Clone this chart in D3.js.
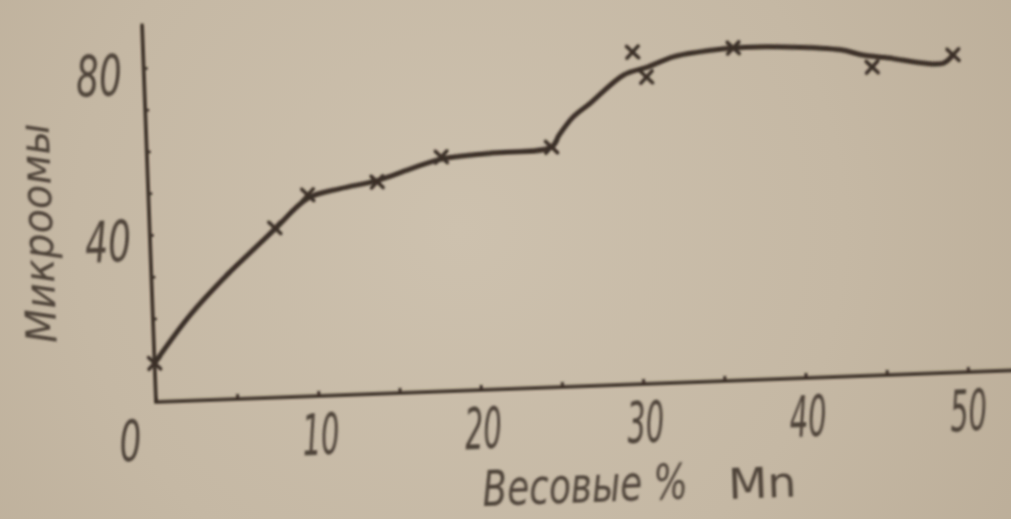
<!DOCTYPE html>
<html>
<head>
<meta charset="utf-8">
<script src="https://cdn.jsdelivr.net/npm/d3@7"></script>
<style>
  html, body { margin: 0; padding: 0; background: #c4b8a4; overflow: hidden; }
  svg { display: block; }
</style>
</head>
<body>
<svg id="chart" width="1011" height="519"></svg>
<script>
// Сопротивление (микроомы) в зависимости от содержания марганца, вес. %

// Плавная кривая, проведённая через опытные точки
const curveMn    = [0, 2.3, 4.8, 6.1, 7.7, 9.8, 11.8, 14.1, 16.1, 18.1, 21.3, 24.9, 25.4, 26.3, 27.4, 29.5, 31.0, 32.6, 34.1, 36.3, 39.8, 42.9, 44.3, 45.9, 47.9, 49.2, 49.8];
const curveMicro = [9.3, 20.5, 30.3, 34.8, 40.3, 47.4, 49.4, 51.0, 53.4, 55.6, 56.6, 57.5, 60.3, 64.5, 67.7, 74.1, 75.8, 78.0, 78.9, 79.6, 79.3, 78.2, 76.7, 75.8, 74.3, 74.1, 76.0];

// Опытные точки (крестики)
const pointMn    = [0, 7.7, 9.8, 14.1, 18.1, 24.9, 30.1, 30.9, 36.3, 44.8, 49.8];
const pointMicro = [9.3, 40.6, 48.2, 50.7, 56.1, 57.5, 79.5, 73.4, 79.6, 73.8, 76.0];

// Деления и подписи осей
const xTickValues = [0, 5, 10, 15, 20, 25, 30, 35, 40, 45, 50];
const xTickLabels = ["0", "10", "20", "30", "40", "50"];
const yTickValues = [10, 20, 30, 40, 50, 60, 70, 80];
const yTickLabels = ["40", "80"];
const xTitle = "Весовые %";
const xTitleUnit = "Mn";
const yTitle = "Микроомы";

const W = 1011, H = 519;
const svg = d3.select("#chart");
const defs = svg.append("defs");

// Фон — бумага с неравномерной освещённостью
const bg = defs.append("radialGradient")
  .attr("id", "paper").attr("gradientUnits", "userSpaceOnUse")
  .attr("cx", 460).attr("cy", 230).attr("r", 640);
bg.append("stop").attr("offset", 0).attr("stop-color", "#cdc1ae");
bg.append("stop").attr("offset", 0.6).attr("stop-color", "#c5b8a4");
bg.append("stop").attr("offset", 1).attr("stop-color", "#bcae99");
svg.append("rect").attr("width", W).attr("height", H).attr("fill", "url(#paper)");

const soft = defs.append("filter").attr("id", "soft")
  .attr("x", "-5%").attr("y", "-5%").attr("width", "110%").attr("height", "110%");
soft.append("feGaussianBlur").attr("stdDeviation", 0.9);

// Scales in the plane of the page; the page itself is slightly sheared
const x = d3.scaleLinear().domain([0, 50]).range([0, 812]);
const y = d3.scaleLinear().domain([0, 80]).range([0, -334]);

const ink = "#3a2f27";
const textInk = "#4d4239";
const plot = svg.append("g")
  .attr("filter", "url(#soft)")
  .attr("transform", "matrix(1,-0.0369,0.037,1,156,402)");

// Оси
plot.append("line")
  .attr("x1", x(0)).attr("y1", y(0)).attr("x2", x(54)).attr("y2", y(0))
  .attr("stroke", ink).attr("stroke-width", 3.6).attr("stroke-linecap", "round");
plot.append("line")
  .attr("x1", x(0)).attr("y1", y(0)).attr("x2", x(0)).attr("y2", y(90.3))
  .attr("stroke", ink).attr("stroke-width", 3.6).attr("stroke-linecap", "round");

const xAxis = d3.axisBottom(x).tickValues(xTickValues).tickSize(-5).tickSizeOuter(0).tickFormat("");
const gx = plot.append("g").call(xAxis);
gx.select(".domain").remove();
gx.selectAll(".tick line").attr("stroke", ink).attr("stroke-width", 3);

const yAxis = d3.axisLeft(y).tickValues(yTickValues).tickSize(-4).tickSizeOuter(0).tickFormat("");
const gy = plot.append("g").call(yAxis);
gy.select(".domain").remove();
gy.selectAll(".tick line").attr("stroke", ink).attr("stroke-width", 2.6);

// Narrow hand-lettered text: measure, then squeeze horizontally to a given width
const digitFont = "'DejaVu Sans Condensed', 'DejaVu Sans', sans-serif";
function lettering(parent, str, opts) {
  const t = parent.append("text")
    .attr("text-anchor", opts.anchor || "start")
    .style("font-family", digitFont)
    .style("font-style", opts.upright ? "normal" : "oblique")
    .style("font-size", opts.size + "px")
    .attr("fill", textInk)
    .text(str);
  const natural = t.node().getComputedTextLength();
  const sx = opts.width / natural;
  t.attr("transform", `translate(${opts.x},${opts.y})${opts.rotate ? ` rotate(${opts.rotate})` : ""} scale(${sx},1)`);
  return t;
}

// Подписи делений
xTickLabels.forEach(d => {
  const v = +d;
  lettering(plot, d, {
    x: x(v) + (v === 0 ? -27 : (v === 50 ? -1 : 1)), y: 59,
    anchor: "middle", size: 57, width: d.length === 1 ? 22 : 37
  });
});
yTickLabels.forEach(d => {
  const v = +d;
  lettering(plot, d, {
    x: v === 80 ? -22 : -19, y: y(v) + (v === 80 ? 27 : 26),
    anchor: "end", size: 57, width: 46
  });
});

// Названия осей
lettering(plot, xTitle, { x: x(20) - 2, y: 116, size: 50, width: 205 });
lettering(plot, xTitleUnit, { x: x(35), y: 118, size: 42, width: 68, upright: true });
lettering(plot, yTitle, { x: -97, y: y(41.4), rotate: -90, anchor: "middle", size: 42, width: 220 });

// Кривая
const curveData = curveMn.map((m, i) => [m, curveMicro[i]]);
plot.append("path")
  .datum(curveData)
  .attr("fill", "none").attr("stroke", ink).attr("stroke-width", 5)
  .attr("stroke-linecap", "round").attr("stroke-linejoin", "round")
  .attr("d", d3.line().x(d => x(d[0])).y(d => y(d[1])).curve(d3.curveCatmullRom.alpha(0.5)));

// Опытные точки
const pointData = pointMn.map((m, i) => [m, pointMicro[i]]);
plot.selectAll("path.pt").data(pointData).join("path")
  .attr("class", "pt")
  .attr("transform", d => `translate(${x(d[0])},${y(d[1])})`)
  .attr("d", d3.symbol().type(d3.symbolTimes).size(90))
  .attr("fill", "none").attr("stroke", ink).attr("stroke-width", 3.6)
  .attr("stroke-linecap", "round");
</script>
</body>
</html>
